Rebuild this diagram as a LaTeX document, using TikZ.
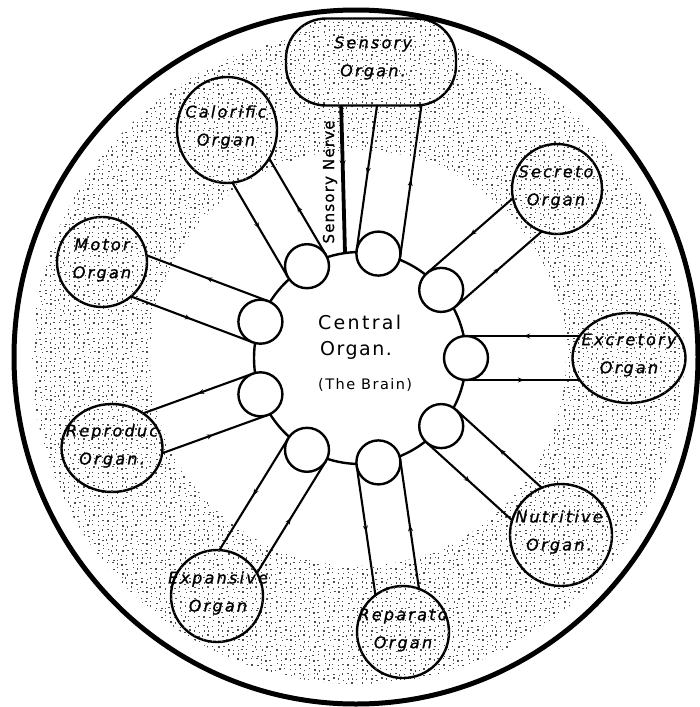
\documentclass[tikz,border=0pt]{standalone}
\usepackage{fontspec}
\setmainfont{DejaVu Sans}
\usetikzlibrary{calc,decorations.markings,arrows.meta,shapes.geometric}

\newsavebox\stipbox

\tikzset{
  thinln/.style={line width=2.1pt},
  smallc/.style={circle, draw, line width=2.4pt, fill=white, minimum size=44pt, inner sep=0pt},
  organ/.style={draw, line width=2.4pt, inner sep=0pt, fill=white},
  tile/.style={inner sep=0pt, outer sep=0pt, anchor=south west},
  lbl/.style={font=\itshape\fontsize{16}{28}\selectfont\addfontfeature{LetterSpace=14,FakeBold=1}, align=center, inner sep=0pt},
  ctext/.style={anchor=west, inner sep=0pt},
  inarrow/.style={postaction={decorate}, decoration={markings, mark=at position 0.5 with {\arrowreversed{Stealth[length=6pt,width=5pt]}}}},
  outarrow/.style={postaction={decorate}, decoration={markings, mark=at position 0.5 with {\arrow{Stealth[length=6pt,width=5pt]}}}},
}

\begin{document}
\pgfmathsetseed{7}
\sbox\stipbox{\begin{pgfpicture}%
  \pgfpathrectangle{\pgfpointorigin}{\pgfpoint{48pt}{48pt}}\pgfusepath{use as bounding box}%
  \pgfsetfillcolor{black!70}%
  \foreach \i in {0,...,9}{\foreach \j in {0,...,9}{%
    \pgfmathsetmacro\dx{4.8*\i+1.7+1.5*rand}%
    \pgfmathsetmacro\dy{4.8*\j+1.7+1.5*rand}%
    \pgfpathrectangle{\pgfpoint{\dx pt}{\dy pt}}{\pgfpoint{1.3pt}{1.3pt}}\pgfusepath{fill}}}%
\end{pgfpicture}}%
\begin{tikzpicture}[x=1pt,y=-1pt]
\useasboundingbox (0,0) rectangle (699,707);
\fill[white] (0,0) rectangle (699,707);

% stippled ring
\begin{scope}[even odd rule]
  \clip (358,358) circle[radius=326] (358,358) circle[radius=208];
  \foreach \gx in {0,...,14}{\foreach \gy in {1,...,15}{
    \path (\gx*48,\gy*48) node[tile] {\usebox\stipbox};}}
\end{scope}

% outer circle
\draw[line width=5pt] (356,357) ellipse[x radius=342, y radius=347];

% centre
\coordinate (B) at (360,358);
\draw[line width=2.4pt] (B) circle[radius=106];

% organ centres
\coordinate (cal) at (227,130);
\coordinate (sen) at (371,62);
\coordinate (senaim) at (400,100);
\coordinate (sec) at (557,189);
\coordinate (exc) at (629,358);
\coordinate (nut) at (561,535);
\coordinate (rep) at (403,632);
\coordinate (exp) at (217,596);
\coordinate (rpd) at (112,448);
\coordinate (mot) at (102,262);

% small circle centres
\coordinate (c1) at (307,266.2);
\coordinate (c2) at (378.4,253.6);
\coordinate (c3) at (441.2,289.9);
\coordinate (c4) at (466,358);
\coordinate (c5) at (441.2,426.1);
\coordinate (c6) at (378.4,462.4);
\coordinate (c7) at (307,449.8);
\coordinate (c8) at (260.4,394.3);
\coordinate (c9) at (260.4,321.7);

% tubes
\foreach \s/\o/\d in {c1/cal/44, c2/senaim/0, c3/sec/37, c4/exc/47, c5/nut/44, c6/rep/38, c7/exp/38, c8/rpd/41, c9/mot/37}{
  \coordinate (q) at ($(\o)!\d pt!(\s)$);
  \draw[thinln, inarrow] ($(\s)!22pt!90:(\o)$) -- ($(q)!22pt!-90:(\s)$);
  \draw[thinln, outarrow] ($(\s)!22pt!-90:(\o)$) -- ($(q)!22pt!90:(\s)$);
}

% sensory nerve
\coordinate (nt) at (341,100);
\coordinate (nb) at (345,253);
\draw[line width=3.8pt, postaction={decorate}, decoration={markings, mark=at position 0.44 with {\arrow{Stealth[length=7pt,width=6pt]}}}] (nt) -- (nb);
\node[rotate=90, inner sep=0pt, font=\fontsize{15}{15}\selectfont\addfontfeature{LetterSpace=8,FakeBold=1}] (snt) at (330,182) {Sensory Nerve};

% small circles
\foreach \i in {1,...,9}{
  \node[smallc] (s\i) at (c\i) {};
}

% organs
\node[organ, rectangle, rounded corners=40pt, minimum width=170pt, minimum height=87pt] (senO) at (sen) {};
\node[organ, ellipse, minimum width=100pt, minimum height=106pt] (calO) at (cal) {};
\node[organ, circle, minimum size=90pt] (secO) at (sec) {};
\node[organ, ellipse, minimum width=113pt, minimum height=90pt] (excO) at (exc) {};
\node[organ, circle, minimum size=102pt] (nutO) at (nut) {};
\node[organ, circle, minimum size=92pt] (repO) at (rep) {};
\node[organ, circle, minimum size=92pt] (expO) at (exp) {};
\node[organ, ellipse, minimum width=101pt, minimum height=88pt] (rpdO) at (rpd) {};
\node[organ, circle, minimum size=90pt] (motO) at (mot) {};

% stipple inside organs
\begin{scope}
  \clip (286,18.5) [rounded corners=40pt] rectangle (456,105.5) [sharp corners]
        (cal) ellipse[x radius=50, y radius=53]
        (sec) circle[radius=45]
        (exc) ellipse[x radius=56.5, y radius=45]
        (nut) circle[radius=51]
        (rep) circle[radius=46]
        (exp) circle[radius=46]
        (rpd) ellipse[x radius=50.5, y radius=44]
        (mot) circle[radius=45];
  \foreach \gx in {0,...,14}{\foreach \gy in {1,...,15}{
    \path (\gx*48,\gy*48) node[tile] {\usebox\stipbox};}}
\end{scope}

% labels
\node[lbl] (senT) at (373,58) {Sensory\\Organ.};
\node[lbl] (calT) at (226,127) {Calorific\\Organ};
\node[lbl] (secT) at (556,187) {Secreto\\Organ};
\node[lbl] (excT) at (629,355) {Excretory\\Organ};
\node[lbl] (nutT) at (559,532) {Nutritive\\Organ.};
\node[lbl] (repT) at (403,630) {Reparato\\Organ};
\node[lbl] (expT) at (218,593) {Expansive\\Organ};
\node[lbl] (rpdT) at (112,446) {Reproduc\\Organ.};
\node[lbl] (motT) at (102,260) {Motor\\Organ};

% central text
\node[ctext, font=\fontsize{19}{19}\selectfont\addfontfeature{LetterSpace=12}] (cen1) at (318,322) {Central};
\node[ctext, font=\fontsize{19}{19}\selectfont\addfontfeature{LetterSpace=8}] (cen2) at (320,350) {Organ.};
\node[ctext, font=\fontsize{14.5}{14.5}\selectfont\addfontfeature{LetterSpace=10}] (cen3) at (318,385) {(The Brain)};
\end{tikzpicture}
\end{document}
